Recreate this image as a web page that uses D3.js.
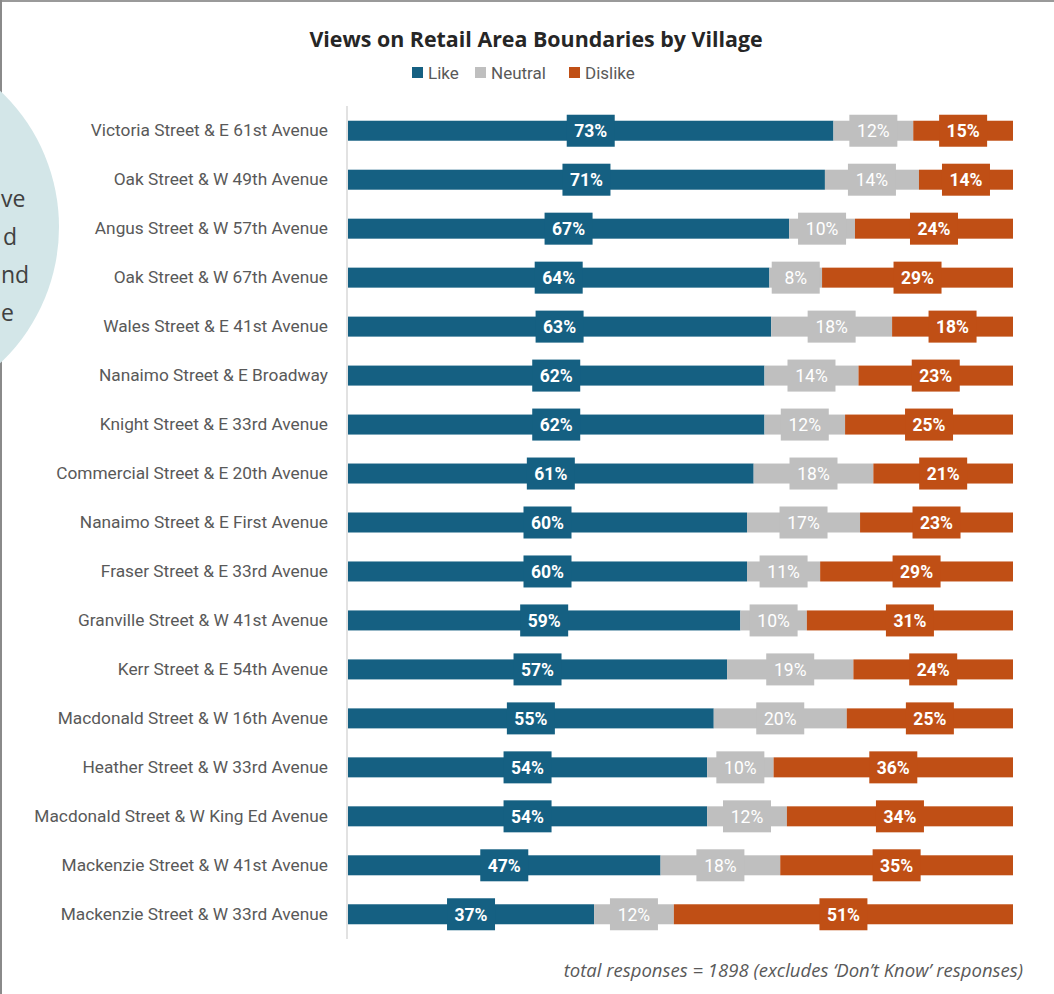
<!DOCTYPE html>
<html>
<head>
<meta charset="utf-8">
<script src="https://cdn.jsdelivr.net/npm/d3@7"></script>
<style>
  html, body { margin: 0; padding: 0; background: #fff; }
  svg { display: block; }
</style>
</head>
<body>
<svg id="chart" width="1054" height="994"></svg>
<script>
// Village names, top to bottom
const villages = [
  "Victoria Street & E 61st Avenue",
  "Oak Street & W 49th Avenue",
  "Angus Street & W 57th Avenue",
  "Oak Street & W 67th Avenue",
  "Wales Street & E 41st Avenue",
  "Nanaimo Street & E Broadway",
  "Knight Street & E 33rd Avenue",
  "Commercial Street & E 20th Avenue",
  "Nanaimo Street & E First Avenue",
  "Fraser Street & E 33rd Avenue",
  "Granville Street & W 41st Avenue",
  "Kerr Street & E 54th Avenue",
  "Macdonald Street & W 16th Avenue",
  "Heather Street & W 33rd Avenue",
  "Macdonald Street & W King Ed Avenue",
  "Mackenzie Street & W 41st Avenue",
  "Mackenzie Street & W 33rd Avenue"
];

// Share of responses (%) per village
const like    = [73, 71, 67, 64, 63, 62, 62, 61, 60, 60, 59, 57, 55, 54, 54, 47, 37];
const neutral = [12, 14, 10,  8, 18, 14, 12, 18, 17, 11, 10, 19, 20, 10, 12, 18, 12];
const dislike = [15, 14, 24, 29, 18, 23, 25, 21, 23, 29, 31, 24, 25, 36, 34, 35, 51];

const seriesNames = ["Like", "Neutral", "Dislike"];
const seriesColors = ["#156082", "#BFBFBF", "#C04F15"];
const labelWeights = ["bold", "normal", "bold"];

const titleText = "Views on Retail Area Boundaries by Village";
const noteText = "total responses = 1898 (excludes \u2018Don\u2019t Know\u2019 responses)";
// Tail ends of the callout lines inside the side bubble
const bubbleLines = ["ve", "d", "nd", "e"];

const svg = d3.select("#chart");
const W = 1054, H = 994;
const font = "Roboto, 'Noto Sans', sans-serif";

// Frame lines along the top and left edges
svg.append("line").attr("x1", 0).attr("x2", W).attr("y1", 1).attr("y2", 1)
  .attr("stroke", "#9a9a9a").attr("stroke-width", 2);
svg.append("line").attr("x1", 1).attr("x2", 1).attr("y1", 0).attr("y2", H)
  .attr("stroke", "#8a8a8a").attr("stroke-width", 2);

// Side bubble
svg.append("circle").attr("cx", -128).attr("cy", 227).attr("r", 187)
  .attr("fill", "#D3E6E8");
const bubbleText = svg.append("g")
  .attr("font-family", "'Open Sans', sans-serif")
  .attr("font-size", 23).attr("fill", "#404040").attr("text-anchor", "start");
const bubbleX = [1, 3, 1, 1];
bubbleLines.forEach((t, i) => {
  bubbleText.append("text").attr("x", bubbleX[i]).attr("y", 207 + i * 38).text(t);
});

// Layout
const margin = { left: 348, right: 1013, top: 106, bottom: 939 };

const rows = villages.map((v, i) => ({
  village: v, Like: like[i], Neutral: neutral[i], Dislike: dislike[i]
}));

// 100% stacked layout: each row is normalised to its own total
const stack = d3.stack().keys(seriesNames).offset(d3.stackOffsetExpand);
const layers = stack(rows);

const x = d3.scaleLinear().domain([0, 1]).range([margin.left, margin.right]);
const y = d3.scaleBand().domain(villages).range([margin.top, margin.bottom]).paddingInner(0.59).paddingOuter(0.3);

// Category axis
const yAxis = d3.axisLeft(y).tickSize(0).tickPadding(19);
const yg = svg.append("g").attr("transform", `translate(${margin.left - 1},0)`).call(yAxis);
yg.select(".domain").remove();
yg.selectAll("text").attr("font-family", font).attr("font-size", 17.3).attr("fill", "#595959");
svg.append("line").attr("x1", margin.left - 1).attr("x2", margin.left - 1)
  .attr("y1", margin.top).attr("y2", margin.bottom)
  .attr("stroke", "#D9D9D9").attr("stroke-width", 1.5);

// Bars
const barH = 20;
const layerG = svg.selectAll("g.layer").data(layers).join("g")
  .attr("class", "layer")
  .attr("fill", (d, i) => seriesColors[i]);

layerG.selectAll("rect.bar").data(d => d).join("rect")
  .attr("class", "bar")
  .attr("x", d => x(d[0]))
  .attr("width", d => x(d[1]) - x(d[0]))
  .attr("y", d => y(d.data.village) + y.bandwidth() / 2 - barH / 2)
  .attr("height", barH);

// Value labels sit on boxes in the segment colour
const boxW = 48, boxH = 32;
layers.forEach((layer, li) => {
  const g = svg.append("g");
  layer.forEach(d => {
    const cx = (x(d[0]) + x(d[1])) / 2;
    const cy = y(d.data.village) + y.bandwidth() / 2;
    g.append("rect")
      .attr("x", cx - boxW / 2).attr("y", cy - boxH / 2)
      .attr("width", boxW).attr("height", boxH)
      .attr("fill", seriesColors[li]);
    g.append("text")
      .attr("x", cx).attr("y", cy)
      .attr("dy", "0.36em")
      .attr("text-anchor", "middle")
      .attr("font-family", font)
      .attr("font-size", 17.5)
      .attr("font-weight", labelWeights[li])
      .attr("fill", "#ffffff")
      .text(d.data[layer.key] + "%");
  });
});

// Title
svg.append("text").attr("x", 536).attr("y", 47)
  .attr("text-anchor", "middle")
  .attr("font-family", "'Open Sans', sans-serif")
  .attr("font-weight", "bold").attr("font-size", 21.4)
  .attr("fill", "#262626").text(titleText);

// Legend
const legendX = [412, 475, 569];
const legend = svg.append("g");
seriesNames.forEach((s, i) => {
  legend.append("rect").attr("x", legendX[i]).attr("y", 67)
    .attr("width", 11).attr("height", 11).attr("fill", seriesColors[i]);
  legend.append("text").attr("x", legendX[i] + 16).attr("y", 73)
    .attr("dy", "0.36em")
    .attr("font-family", font).attr("font-size", 17)
    .attr("fill", "#595959").text(s);
});

// Footnote
svg.append("text").attr("x", 1023).attr("y", 977)
  .attr("text-anchor", "end")
  .attr("font-family", "'Open Sans', sans-serif")
  .attr("font-style", "italic").attr("font-size", 18.5)
  .attr("fill", "#595959").text(noteText);
</script>
</body>
</html>
